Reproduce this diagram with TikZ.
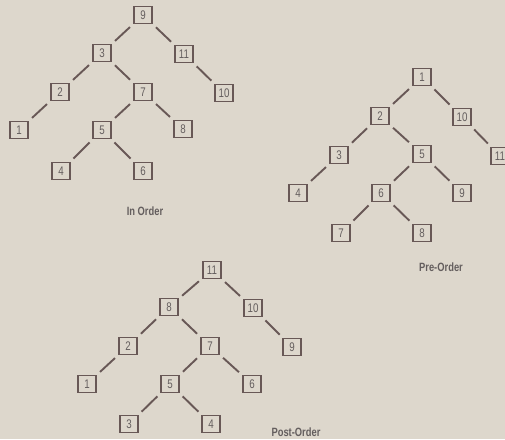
\documentclass[tikz,border=0pt]{standalone}
\usepackage{fontspec}
\newfontfamily\condfont[FakeStretch=0.78]{Liberation Sans}
\definecolor{bg}{RGB}{221,215,204}
\definecolor{ink}{RGB}{104,88,86}
\definecolor{txt}{RGB}{100,94,94}
\begin{document}
\begin{tikzpicture}[x=1pt,y=-1pt,
  bx/.style={draw=ink, line width=1.4pt, fill=none, minimum width=18pt, minimum height=17pt, inner sep=1pt, font=\condfont\fontsize{12.5}{12.5}\selectfont, text=txt},
  ed/.style={draw=ink, line width=1.9pt, shorten <=4.5pt, shorten >=4.5pt},
  lbl/.style={font=\condfont\bfseries\fontsize{12}{12}\selectfont, text=txt}]
\fill[bg] (0,0) rectangle (505,439);
\useasboundingbox (0,0) rectangle (505,439);
% In Order
\node[bx] (a9) at (143,15) {9};
\node[bx] (a3) at (102,53) {3};
\node[bx] (a11) at (184,54) {11};
\node[bx] (a2) at (60,92) {2};
\node[bx] (a7) at (143,92) {7};
\node[bx] (a10) at (224,93) {10};
\node[bx] (a1) at (19,130) {1};
\node[bx] (a5) at (102,130) {5};
\node[bx] (a8) at (183,129) {8};
\node[bx] (a4) at (61,171) {4};
\node[bx] (a6) at (143,171) {6};
\draw[ed] (a9)--(a3); \draw[ed] (a9)--(a11); \draw[ed] (a3)--(a2); \draw[ed] (a3)--(a7);
\draw[ed] (a11)--(a10); \draw[ed] (a2)--(a1); \draw[ed] (a7)--(a5); \draw[ed] (a7)--(a8);
\draw[ed] (a5)--(a4); \draw[ed] (a5)--(a6);
\node[lbl] (la) at (145,211) {In Order};
% Pre-Order
\node[bx] (b1) at (422,77) {1};
\node[bx] (b2) at (380,116) {2};
\node[bx] (b10) at (462,117) {10};
\node[bx] (b3) at (339,155) {3};
\node[bx] (b5) at (422,154) {5};
\node[bx] (b11) at (500,156) {11};
\node[bx] (b4) at (298,193) {4};
\node[bx] (b6) at (381,193) {6};
\node[bx] (b9) at (462,193) {9};
\node[bx] (b7) at (341,233) {7};
\node[bx] (b8) at (422,233) {8};
\draw[ed] (b1)--(b2); \draw[ed] (b1)--(b10); \draw[ed] (b2)--(b3); \draw[ed] (b2)--(b5);
\draw[ed] (b10)--(b11); \draw[ed] (b3)--(b4); \draw[ed] (b5)--(b6); \draw[ed] (b5)--(b9);
\draw[ed] (b6)--(b7); \draw[ed] (b6)--(b8);
\node[lbl] (lb) at (441,267) {Pre-Order};
% Post-Order
\node[bx] (c11) at (212,270) {11};
\node[bx] (c8) at (169,307) {8};
\node[bx] (c10) at (253,308) {10};
\node[bx] (c2) at (128,346) {2};
\node[bx] (c7) at (210,346) {7};
\node[bx] (c9) at (292,347) {9};
\node[bx] (c1) at (87,384) {1};
\node[bx] (c5) at (170,384) {5};
\node[bx] (c6) at (252,384) {6};
\node[bx] (c3) at (129,424) {3};
\node[bx] (c4) at (211,424) {4};
\draw[ed] (c11)--(c8); \draw[ed] (c11)--(c10); \draw[ed] (c8)--(c2); \draw[ed] (c8)--(c7);
\draw[ed] (c10)--(c9); \draw[ed] (c2)--(c1); \draw[ed] (c7)--(c5); \draw[ed] (c7)--(c6);
\draw[ed] (c5)--(c3); \draw[ed] (c5)--(c4);
\node[lbl] (lc) at (296,432) {Post-Order};
\end{tikzpicture}
\end{document}
